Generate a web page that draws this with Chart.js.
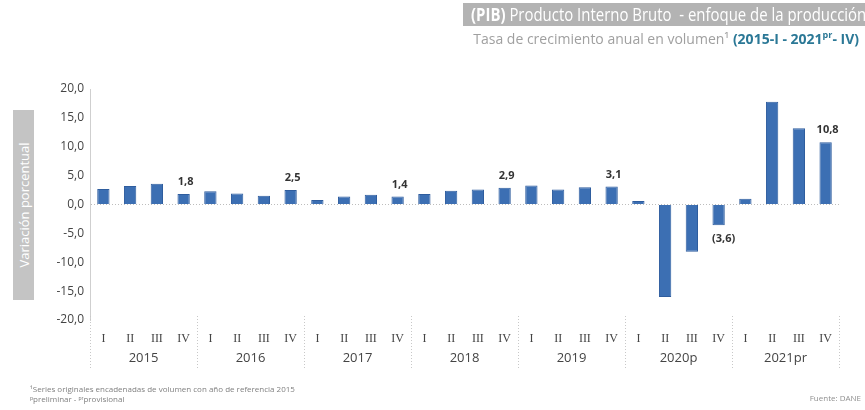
<!DOCTYPE html>
<html>
<head>
<meta charset="utf-8">
<script src="https://cdn.jsdelivr.net/npm/chart.js@4"></script>
<style>
  html, body { margin: 0; padding: 0; background: #fff; }
  #wrap { position: relative; width: 865px; height: 410px; overflow: hidden; font-family: "Open Sans", sans-serif; }
  #chart { position: absolute; left: 0; top: 0; }
  .band { position: absolute; left: 463px; top: 3px; width: 402px; height: 23px; background: #b3b3b3;
          color: #fff; font-size: 18px; line-height: 23px; white-space: nowrap; padding-left: 8px; box-sizing: border-box; }
  .band span { display: inline-block; transform: scaleX(0.83); transform-origin: 0 50%; }
  .sub { position: absolute; right: 6px; top: 28px; color: #a0a0a0; font-size: 14px; white-space: nowrap; }
  .sub b { color: #2b7896; }
  .ytitle { position: absolute; left: 13px; top: 110px; width: 21px; height: 190px; background: #c4c4c4; }
  .ytitle span { position: absolute; left: 50%; top: 50%; transform: translate(-50%, -50%) rotate(-90deg);
                 color: #fff; font-size: 13px; white-space: nowrap; }
  .note { position: absolute; left: 30px; font-size: 8px; color: #808080; white-space: nowrap; }
  .src { position: absolute; right: 4px; top: 392px; font-size: 8px; color: #909090; }
</style>
</head>
<body>
<div id="wrap">
  <canvas id="chart" width="865" height="410"></canvas>
  <div class="band"><span><b>(PIB)</b> Producto Interno Bruto&nbsp; - enfoque de la producción</span></div>
  <div class="sub">Tasa de crecimiento anual en volumen¹ <b>(2015-I - 2021<sup style="font-size:9px">pr</sup>- IV)</b></div>
  <div class="ytitle"><span>Variación porcentual</span></div>
  <div class="note" style="top:383px">¹Series originales encadenadas de volumen con año de referencia 2015</div>
  <div class="note" style="top:393px">ᵖpreliminar - ᵖʳprovisional</div>
  <div class="src">Fuente: DANE</div>
</div>
<script>
const quarters = ['I', 'II', 'III', 'IV'];
const years = ['2015', '2016', '2017', '2018', '2019', '2020p', '2021pr'];
const growth = [
    2.7, 3.2, 3.6, 1.8,
    2.3, 1.9, 1.5, 2.5,
    0.8, 1.4, 1.7, 1.4,
    1.8, 2.4, 2.6, 2.9,
    3.3, 2.6, 3.0, 3.1,
    0.6, -16.0, -8.2, -3.6,
    1.0, 17.8, 13.2, 10.8
];
const dataLabels = [
    null, null, null, '1,8',
    null, null, null, '2,5',
    null, null, null, '1,4',
    null, null, null, '2,9',
    null, null, null, '3,1',
    null, null, null, '(3,6)',
    null, null, null, '10,8'
];
const yTicks = [20, 15, 10, 5, 0, -5, -10, -15, -20];

const categoryLabels = years.flatMap(() => quarters);

// labels on top of (or below) some bars
const valueLabels = {
    id: 'valueLabels',
    afterDatasetsDraw(chart) {
        const ctx = chart.ctx;
        const meta = chart.getDatasetMeta(0);
        ctx.save();
        ctx.font = 'bold 11px "Open Sans", sans-serif';
        ctx.fillStyle = '#333';
        ctx.textAlign = 'center';
        ctx.textBaseline = 'middle';
        meta.data.forEach((bar, i) => {
            if (!dataLabels[i]) return;
            if (growth[i] >= 0) {
                ctx.fillText(dataLabels[i], bar.x + 2, bar.y - 12);
            } else {
                ctx.fillText(dataLabels[i], bar.x + 5, bar.y + 14);
            }
        });
        ctx.restore();
    }
};

// dotted separators between years, under the axis
const yearSeparators = {
    id: 'yearSeparators',
    afterDraw(chart) {
        const ctx = chart.ctx;
        const x = chart.scales.x;
        const half = (x.getPixelForValue(1) - x.getPixelForValue(0)) / 2;
        ctx.save();
        ctx.strokeStyle = '#c8c8c8';
        ctx.lineWidth = 1;
        ctx.setLineDash([1, 2]);
        for (let i = 0; i <= categoryLabels.length; i += 4) {
            const px = Math.round(x.getPixelForValue(i) - half) + 0.5;
            ctx.beginPath();
            ctx.moveTo(px, chart.chartArea.bottom - 4);
            ctx.lineTo(px, chart.chartArea.bottom + 48);
            ctx.stroke();
        }
        ctx.restore();
    }
};

new Chart(document.getElementById('chart'), {
    type: 'bar',
    data: {
        labels: categoryLabels,
        datasets: [{
            data: growth,
            backgroundColor: '#3c6fb3',
            borderColor: '#2f5d9e',
            borderWidth: 1,
            barPercentage: 0.46,
            categoryPercentage: 1
        }]
    },
    options: {
        responsive: false,
        animation: false,
        layout: { padding: { left: 0, top: 89, right: 26, bottom: 44 } },
        plugins: { legend: { display: false }, tooltip: { enabled: false } },
        scales: {
            x: {
                grid: { display: false },
                border: { display: false },
                ticks: { color: '#444', font: { family: 'Liberation Serif', size: 12 }, padding: 4, maxRotation: 0, autoSkip: false },
                afterFit: s => { s.height = 24; }
            },
            years: {
                type: 'category',
                position: 'bottom',
                labels: years,
                offset: true,
                grid: { display: false },
                border: { display: false },
                ticks: { color: '#444', font: { family: 'Open Sans', size: 13 }, padding: -2 },
                afterFit: s => { s.height = 22; }
            },
            y: {
                min: -20,
                max: 20,
                afterBuildTicks: s => { s.ticks = yTicks.map(v => ({ value: v })); },
                afterFit: s => { s.width = 90; },
                grid: {
                    color: c => c.tick && c.tick.value === 0 ? '#bdbdbd' : 'transparent',
                    drawTicks: false
                },
                border: { display: true, color: '#cfcfcf', dash: [1, 2] },
                ticks: {
                    color: '#444',
                    font: { family: 'Open Sans', size: 12 },
                    padding: 6,
                    callback: v => v.toFixed(1).replace('.', ',')
                }
            }
        }
    },
    plugins: [valueLabels, yearSeparators]
});
</script>
</body>
</html>
